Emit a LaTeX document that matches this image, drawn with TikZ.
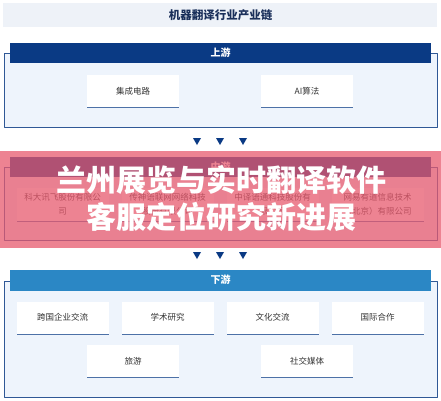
\documentclass[tikz,border=0pt]{standalone}
\usepackage{fontspec}
\newfontfamily\cjk{Noto Sans CJK SC}
\usetikzlibrary{shadows}

\definecolor{navy}{RGB}{10,58,132}
\definecolor{skyblue}{RGB}{43,135,197}
\definecolor{panelfill}{RGB}{238,244,252}
\definecolor{titlefill}{RGB}{238,242,248}
\definecolor{titleink}{RGB}{26,47,90}
\definecolor{cellink}{RGB}{51,51,51}
\definecolor{veil}{RGB}{232,90,110}

\begin{document}
\begin{tikzpicture}[x=1pt,y=-1pt,line join=round,
  panel/.style={draw=navy!85,line width=0.7pt,fill=panelfill},
  band/.style={fill=#1,minimum width=421pt,minimum height=20pt,inner sep=0pt,
    text=white,font=\cjk\bfseries\fontsize{10}{12}\selectfont},
  cell/.style={fill=white,minimum width=92pt,minimum height=32pt,inner sep=2pt,
    align=center,text=cellink,font=\cjk\fontsize{8.5}{14}\selectfont,
    drop shadow={shadow xshift=0pt,shadow yshift=-1.3pt,fill=navy,opacity=0.7}},
  tick/.style={fill=navy}]
  \useasboundingbox (0,0) rectangle (441,400);
  \fill[white] (0,0) rectangle (441,400);

  % title
  \fill[titlefill] (3,3) rectangle (437,27);
  \node[text=titleink,font=\cjk\bfseries\fontsize{11.5}{13}\selectfont] (title) at (220.5,15) {机器翻译行业产业链};

  % upstream
  \draw[panel] (4,53) rectangle (437,127);
  \node[band=navy] (up) at (220.5,53) {上游};
  \node[cell] (ic) at (133,91) {集成电路};
  \node[cell] (ai) at (307,91) {AI算法};

  \foreach \x in {197,220,243} {
    \fill[tick] (\x-4,138) -- (\x+4,138) -- (\x,145) -- cycle;
    \fill[tick] (\x-4,252) -- (\x+4,252) -- (\x,259) -- cycle;
  }

  % midstream
  \draw[panel] (4,167) rectangle (437,240);
  \node[band=navy] (mid) at (220.5,167) {中游};
  \node[cell,minimum height=33pt] (iflytek) at (62.5,204.5) {科大讯飞股份有限公\\司};
  \node[cell,minimum height=33pt] (transn) at (167.5,204.5) {传神语联网网络科技\\股份有限公司};
  \node[cell,minimum height=33pt] (gtcom) at (272.5,204.5) {中译语通科技股份有\\限公司};
  \node[cell,minimum height=33pt] (youdao) at (377.5,204.5) {网易有道信息技术\\（北京）有限公司};

  % downstream
  \draw[panel] (4,281) rectangle (437,397);
  \node[band=skyblue,minimum height=21pt] (down) at (220.5,280) {下游};
  \node[cell] (trade) at (62.5,317.5) {跨国企业交流};
  \node[cell] (study) at (167.5,317.5) {学术研究};
  \node[cell] (culture) at (272.5,317.5) {文化交流};
  \node[cell] (coop) at (377.5,317.5) {国际合作};
  \node[cell] (tour) at (133,361) {旅游};
  \node[cell] (social) at (307,361) {社交媒体};

  % overlay
  \fill[veil,opacity=0.75] (0,151) rectangle (441,248);
  \node[align=center,text=white,font=\cjk\bfseries\fontsize{30}{37}\selectfont] (headline) at (221,198.5)
    {兰州展览与实时翻译软件\\客服定位研究新进展};
\end{tikzpicture}
\end{document}
